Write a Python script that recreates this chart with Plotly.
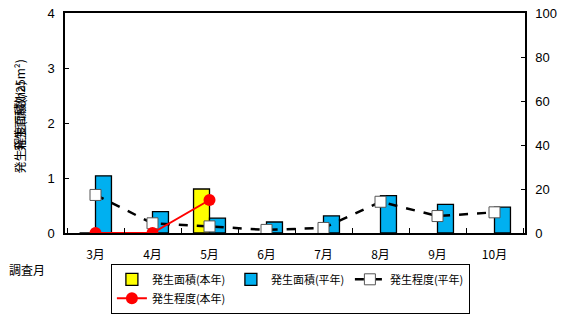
import plotly.graph_objects as go

months = ["3月", "4月", "5月", "6月", "7月", "8月", "9月", "10月"]
area_this_year = [0, 0, 0.8, None, None, None, None, None]
area_normal = [1.04, 0.39, 0.27, 0.2, 0.31, 0.68, 0.52, 0.47]
degree_normal = [17.3, 4.4, 3.0, 1.4, 2.3, 14.2, 7.7, 9.4]
degree_this_year = [0, 0, 15, None, None, None, None, None]

FONT = "Noto Sans CJK JP, Arial, sans-serif"

fig = go.Figure()
fig.add_trace(go.Bar(x=months, y=area_this_year, name="発生面積(本年)",
                     marker=dict(color="#ffff00", line=dict(color="black", width=1.3))))
fig.add_trace(go.Bar(x=months, y=area_normal, name="発生面積(平年)",
                     marker=dict(color="#00b0f0", line=dict(color="black", width=1.3))))
fig.add_trace(go.Scatter(x=months, y=degree_normal, name="発生程度(平年)", yaxis="y2",
                         mode="lines+markers",
                         line=dict(color="black", width=2.5, dash="dash"),
                         marker=dict(symbol="square", size=11, color="white",
                                     line=dict(color="#555555", width=1))))
fig.add_trace(go.Scatter(x=months, y=degree_this_year, name="発生程度(本年)", yaxis="y2",
                         mode="lines+markers",
                         line=dict(color="#ff0000", width=2),
                         marker=dict(symbol="circle", size=12, color="#ff0000")))

fig.update_layout(
    width=569, height=315,
    margin=dict(l=65, r=44, t=13, b=82, autoexpand=False),
    paper_bgcolor="white", plot_bgcolor="white",
    font=dict(family=FONT, size=11, color="black"),
    barmode="group", bargap=0.44, bargroupgap=0,
    showlegend=True,
    legend=dict(orientation="h", x=0.49, xanchor="center", y=-0.14, yanchor="top",
                bordercolor="black", borderwidth=1, font=dict(size=11),
                entrywidth=74, entrywidthmode="pixels",
                tracegroupgap=0, itemwidth=30),
    xaxis=dict(showline=True, linecolor="black", linewidth=1.5, mirror=True,
               ticks="inside", ticklen=5, tickcolor="black", tickson="boundaries",
               tickfont=dict(size=12), ticklabelstandoff=10),
    yaxis=dict(range=[0, 4], dtick=1, showline=True, linecolor="black", linewidth=1.5,
               ticks="inside", ticklen=4, tickcolor="black", showgrid=False, zeroline=False,
               tickfont=dict(family="Liberation Sans, Arial", size=13), ticklabelstandoff=6,
               ticklabeloverflow="allow"),
    yaxis2=dict(range=[0, 100], dtick=20, overlaying="y", side="right", showline=True,
                linecolor="black", linewidth=1.5, ticks="inside", ticklen=4, tickcolor="black",
                showgrid=False, zeroline=False,
                tickfont=dict(family="Liberation Sans, Arial", size=13), ticklabelstandoff=6,
                ticklabeloverflow="allow"),
)

fig.add_annotation(text="調査月", xref="paper", yref="paper", x=-0.083, y=-0.168,
                   showarrow=False, font=dict(size=12), xanchor="center", yanchor="middle")
for t in ["発生面積(ha)", "発生程度(頭数/25m²)"]:
    fig.add_annotation(text=t, xref="paper", yref="paper", x=-0.1, y=0.53,
                       showarrow=False, textangle=-90, font=dict(size=12),
                       xanchor="center", yanchor="middle")

fig.write_html("out.html", config={"displayModeBar": False},
               post_script="document.body.style.margin='0';")
